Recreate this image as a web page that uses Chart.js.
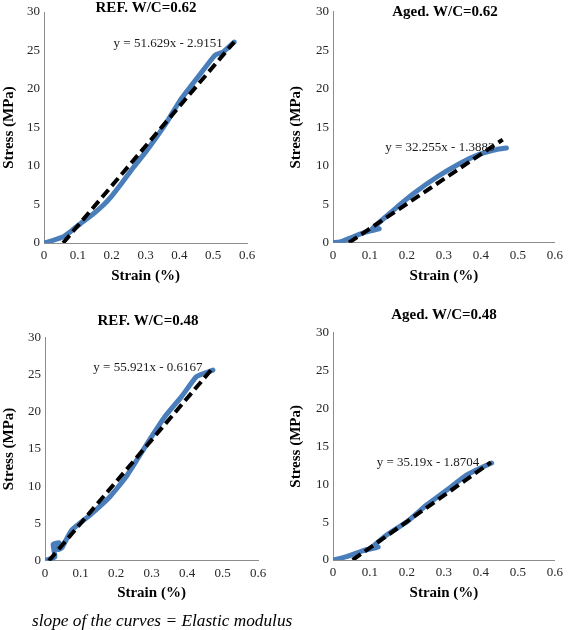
<!DOCTYPE html>
<html><head><meta charset="utf-8">
<script src="https://cdn.jsdelivr.net/npm/chart.js@4.4.0/dist/chart.umd.min.js"></script>
<style>
html,body{margin:0;padding:0;background:#fff;}
body{width:568px;height:630px;position:relative;overflow:hidden;}
.p{position:absolute;}
#caption{position:absolute;left:32px;top:611px;font:italic 17.3px "Liberation Serif",serif;color:#000;white-space:nowrap;line-height:20px;}
</style></head><body>
<div class="p" style="left:0;top:0"><canvas id="c1" width="284" height="300"></canvas></div>
<div class="p" style="left:284px;top:0"><canvas id="c2" width="284" height="300"></canvas></div>
<div class="p" style="left:0;top:300px"><canvas id="c3" width="284" height="330"></canvas></div>
<div class="p" style="left:284px;top:300px"><canvas id="c4" width="284" height="330"></canvas></div>
<div id="caption">slope of the curves = Elastic modulus</div>
<script>
// ---- tick labels ----
const strainTickLabels = ['0','0.1','0.2','0.3','0.4','0.5','0.6'];
const stressTickLabels = ['0','5','10','15','20','25','30'];

// ---- REF. W/C=0.62 ----
const ref062Strain = [0, 0.02, 0.057, 0.082, 0.11, 0.146, 0.175, 0.2, 0.23, 0.264, 0.3, 0.33, 0.363, 0.402, 0.447, 0.48, 0.506, 0.529, 0.562];
const ref062Stress = [0, 0.25, 0.8, 1.6, 2.6, 3.8, 4.9, 6.1, 7.8, 9.8, 11.8, 13.6, 15.7, 18.5, 21.1, 23.0, 24.4, 24.8, 26.1];
const ref062TrendStrain = [0.0565, 0.562];
const ref062TrendStress = [0, 26.1];

// ---- Aged. W/C=0.62 ----
const aged062Strain = [0, 0.019, 0.055, 0.09, 0.125, 0.105, 0.163, 0.217, 0.28, 0.343, 0.397, 0.442, 0.469];
const aged062Stress = [0, 0.1, 0.77, 1.4, 1.8, 1.75, 4.2, 6.35, 8.5, 10.3, 11.5, 12.1, 12.3];
const aged062TrendStrain = [0.043, 0.459];
const aged062TrendStress = [0, 13.4];

// ---- REF. W/C=0.48 ----
const ref048Strain = [0, 0.019, 0.028, 0.023, 0.04, 0.035, 0.047, 0.075, 0.126, 0.183, 0.229, 0.286, 0.337, 0.384, 0.426, 0.445, 0.473];
const ref048Stress = [0, 0.3, 0.5, 2.2, 2.4, 1.5, 1.7, 4.1, 6.1, 8.6, 11.3, 15.6, 19.3, 22.0, 24.7, 25.1, 25.6];
const ref048TrendStrain = [0.011, 0.475];
const ref048TrendStress = [0, 26.0];

// ---- Aged. W/C=0.48 ----
const aged048Strain = [0, 0.037, 0.082, 0.105, 0.122, 0.108, 0.145, 0.2, 0.253, 0.307, 0.361, 0.406, 0.429];
const aged048Stress = [0, 0.44, 1.23, 1.5, 1.7, 1.75, 3.3, 5.05, 7.25, 9.2, 11.2, 12.3, 12.8];
const aged048TrendStrain = [0.053, 0.427];
const aged048TrendStress = [0, 12.9];

const FONT = '"Liberation Serif", "Times New Roman", serif';
const zip = (xs, ys) => xs.map((x, i) => ({x: x, y: ys[i]}));

function makePanel(id, p) {
  const textPlugin = {
    id: 'panelText' + id,
    afterDraw(chart) {
      const ctx = chart.ctx;
      ctx.save();
      ctx.fillStyle = '#000';
      ctx.textAlign = 'center';
      ctx.textBaseline = 'middle';
      ctx.font = 'bold 15px ' + FONT;
      ctx.fillText(p.title, p.titleX, p.titleY);
      ctx.font = '13px ' + FONT;
      ctx.fillStyle = '#1a1a1a';
      const ex = chart.scales.x.getPixelForValue(p.eqAt[0]);
      const ey = chart.scales.y.getPixelForValue(p.eqAt[1]);
      ctx.fillText(p.eq, ex, ey);
      ctx.restore();
    }
  };
  new Chart(document.getElementById(id), {
    type: 'scatter',
    data: {
      datasets: [
        { data: zip(p.tx, p.ty), showLine: true, borderColor: '#000', borderWidth: 4,
          borderDash: [10, 5], pointRadius: 0, fill: false },
        { data: zip(p.cx, p.cy), showLine: true, borderColor: '#4a7ebb', borderWidth: 5,
          pointRadius: 0, tension: 0.15, fill: false, borderCapStyle: 'round', borderJoinStyle: 'round' }
      ]
    },
    options: {
      responsive: false, animation: false,
      layout: { padding: p.pad },
      plugins: { legend: { display: false }, tooltip: { enabled: false } },
      scales: {
        x: {
          type: 'linear', min: 0, max: 0.6,
          grid: { display: false, drawTicks: false },
          border: { display: true, color: '#8c8c8c', width: 1 },
          ticks: { stepSize: 0.1, padding: 5, color: '#262626', font: { family: FONT, size: 13 },
                   callback: (v, i) => strainTickLabels[i] },
          title: { display: true, text: 'Strain (%)', color: '#000', padding: 0,
                   font: { family: FONT, size: 15, weight: 'bold' } },
          afterFit: (s) => { s.height = p.xH; }
        },
        y: {
          type: 'linear', min: 0, max: 30,
          grid: { display: false, drawTicks: false },
          border: { display: true, color: '#8c8c8c', width: 1 },
          ticks: { stepSize: 5, padding: 4, color: '#262626', font: { family: FONT, size: 13 },
                   callback: (v, i) => stressTickLabels[i] },
          title: { display: true, text: 'Stress (MPa)', color: '#000', padding: 0,
                   font: { family: FONT, size: 15, weight: 'bold' } },
          afterFit: (s) => { s.width = p.yW; }
        }
      }
    },
    plugins: [textPlugin]
  });
}

makePanel('c1', { cx: ref062Strain, cy: ref062Stress, tx: ref062TrendStrain, ty: ref062TrendStress,
  title: 'REF. W/C=0.62', titleX: 146, titleY: 8, eq: 'y = 51.629x - 2.9151', eqAt: [0.367, 25.9],
  pad: { left: 0, right: 37, top: 12, bottom: 15 }, yW: 44, xH: 42 });
makePanel('c2', { cx: aged062Strain, cy: aged062Stress, tx: aged062TrendStrain, ty: aged062TrendStress,
  title: 'Aged. W/C=0.62', titleX: 161, titleY: 12.5, eq: 'y = 32.255x - 1.3883', eqAt: [0.289, 12.3],
  pad: { left: 3, right: 12.3, top: 9.3, bottom: 15 }, yW: 46, xH: 42.3 });
makePanel('c3', { cx: ref048Strain, cy: ref048Stress, tx: ref048TrendStrain, ty: ref048TrendStress,
  title: 'REF. W/C=0.48', titleX: 148, titleY: 21, eq: 'y = 55.921x - 0.6167', eqAt: [0.29, 25.9],
  pad: { left: 0, right: 26, top: 37.3, bottom: 28 }, yW: 45, xH: 41.3 });
makePanel('c4', { cx: aged048Strain, cy: aged048Stress, tx: aged048TrendStrain, ty: aged048TrendStress,
  title: 'Aged. W/C=0.48', titleX: 160, titleY: 15, eq: 'y = 35.19x - 1.8704', eqAt: [0.257, 12.9],
  pad: { left: 2.7, right: 12.3, top: 32.7, bottom: 28 }, yW: 46.3, xH: 42 });
</script>
</body></html>
